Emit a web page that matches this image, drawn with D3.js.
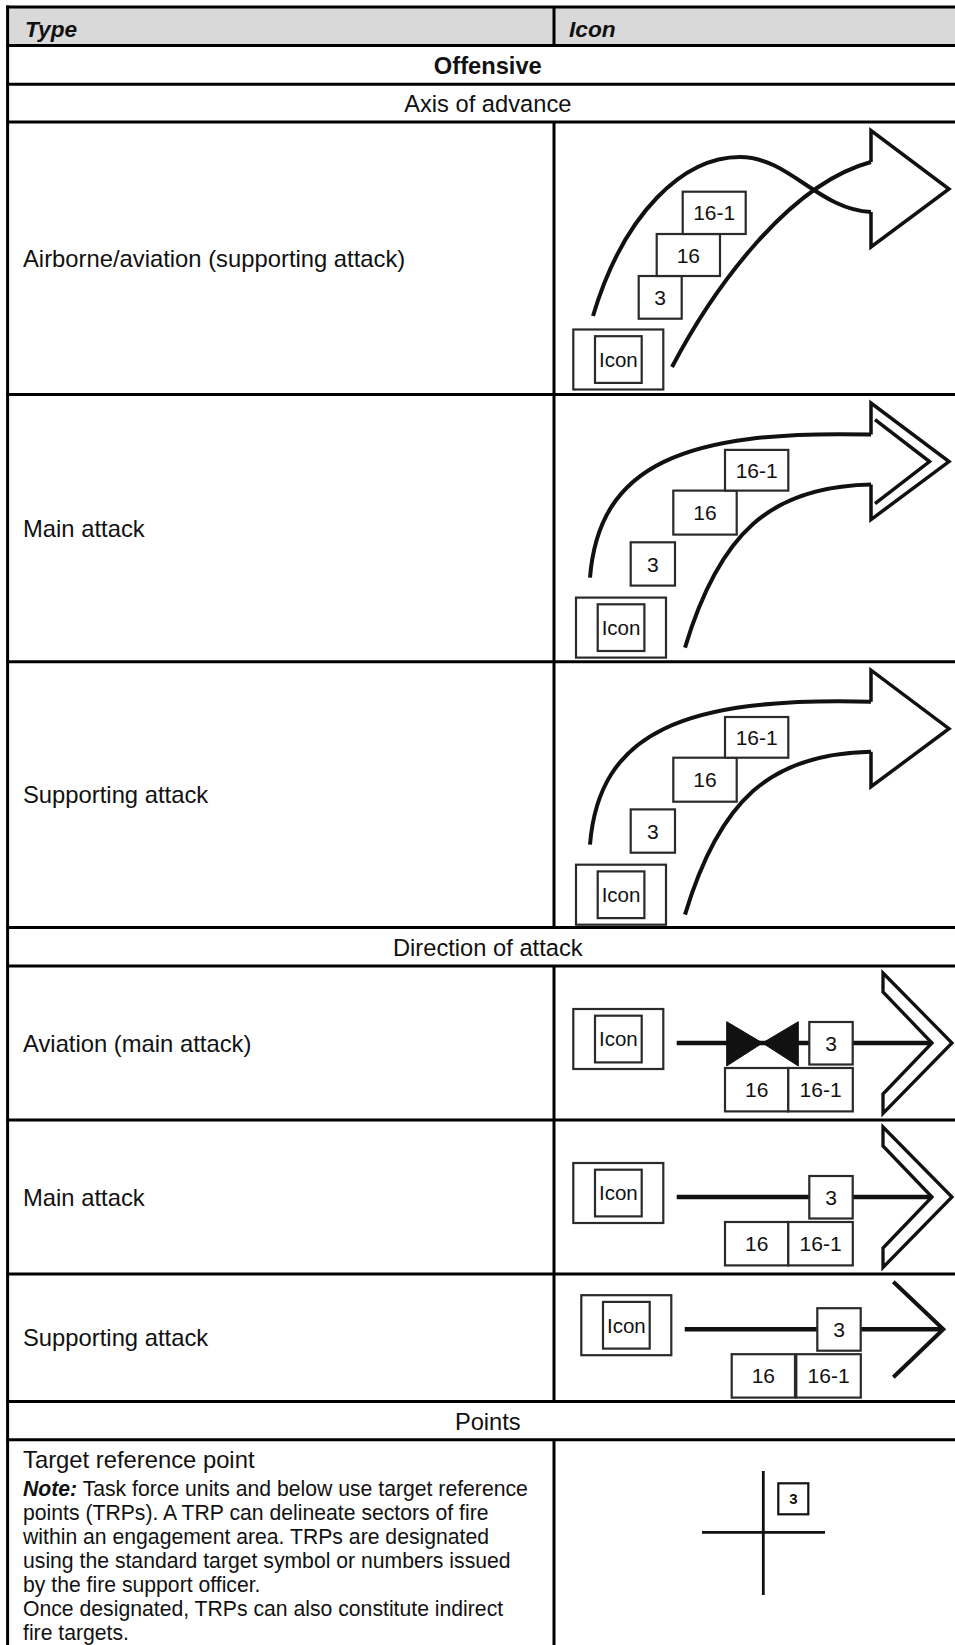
<!DOCTYPE html>
<html><head><meta charset="utf-8">
<script src="https://cdn.jsdelivr.net/npm/d3@7"></script>
<style>
html,body{margin:0;padding:0;background:#fff;}
svg{display:block;}
text{font-family:"Liberation Sans",Arial,Helvetica,sans-serif;fill:#111;}
</style></head><body>
<svg id="c" width="955" height="1645"></svg>
<script>
// ---------- data ----------
const columnHeaders = ["Type", "Icon"];
const groupTitle = "Offensive";
const subsectionTitles = ["Axis of advance", "Direction of attack", "Points"];
const axisOfAdvanceTypes = ["Airborne/aviation (supporting attack)", "Main attack", "Supporting attack"];
const axisOfAdvanceVariants = ["airborne", "main", "supporting"];
const directionOfAttackTypes = ["Aviation (main attack)", "Main attack", "Supporting attack"];
const directionOfAttackVariants = ["aviation", "main", "supporting"];
const fieldLabels = ["3", "16", "16-1"];
const iconPlaceholder = "Icon";
const pointTypes = ["Target reference point"];
const trpNoteLead = "Note:";
const trpNoteLines = [
  " Task force units and below use target reference",
  "points (TRPs). A TRP can delineate sectors of fire",
  "within an engagement area. TRPs are designated",
  "using the standard target symbol or numbers issued",
  "by the fire support officer.",
  "Once designated, TRPs can also constitute indirect",
  "fire targets."
];
const trpLabel = "3";

// ---------- layout ----------
const W = 955, H = 1645;
const xLeft = 7.6, xDiv = 554, xRight = 968, yTop = 7;
const centerX = (xLeft + xRight) / 2;
const ink = "#111", boxInk = "#2a2a2a";
const layoutHeights = {header: 38.6, group: 38.6, sub: [37.8, 38.4, 38.2],
  axis: [272.6, 267.1, 265.9], dir: [154, 154, 127.5], trp: 260};

const rows = [];
rows.push({kind: "header", h: layoutHeights.header});
rows.push({kind: "group", text: groupTitle, h: layoutHeights.group});
rows.push({kind: "sub", text: subsectionTitles[0], h: layoutHeights.sub[0]});
axisOfAdvanceTypes.forEach((t, i) => rows.push({kind: "axis", text: t, variant: axisOfAdvanceVariants[i], h: layoutHeights.axis[i]}));
rows.push({kind: "sub", text: subsectionTitles[1], h: layoutHeights.sub[1]});
directionOfAttackTypes.forEach((t, i) => rows.push({kind: "dir", text: t, variant: directionOfAttackVariants[i], h: layoutHeights.dir[i]}));
rows.push({kind: "sub", text: subsectionTitles[2], h: layoutHeights.sub[2]});
rows.push({kind: "trp", text: pointTypes[0], h: layoutHeights.trp});

const ends = d3.cumsum(rows, r => r.h);
rows.forEach((r, i) => { r.y0 = yTop + (i ? ends[i - 1] : 0); r.y1 = yTop + ends[i]; });

const svg = d3.select("#c");

// header background
const hdr = rows[0];
svg.append("rect").attr("x", xLeft).attr("y", hdr.y0).attr("width", xRight - xLeft)
  .attr("height", hdr.h).attr("fill", "#d9d9d9");

// ---------- helpers ----------
function box(g, x, y, w, h, label, fs, sw) {
  g.append("rect").attr("x", x).attr("y", y).attr("width", w).attr("height", h)
    .attr("fill", "#fff").attr("stroke", boxInk).attr("stroke-width", sw || 2.2);
  if (label != null)
    g.append("text").attr("x", x + w / 2).attr("y", y + h / 2).attr("dy", "0.36em")
      .attr("text-anchor", "middle").attr("font-size", fs || 21).text(label);
}
function iconBox(g, x, y) {
  box(g, x, y, 90, 60, null);
  box(g, x + 21.7, y + 6.7, 46.7, 46.7, iconPlaceholder, 20.5);
}
function strokePath(g, p, sw) {
  g.append("path").attr("d", p.toString()).attr("fill", "none").attr("stroke", ink)
    .attr("stroke-width", sw).attr("stroke-linejoin", "miter").attr("stroke-miterlimit", 10);
}

function drawAxisIcon(g, variant) {
  const sh = d3.path();
  if (variant === "airborne") {
    // upper curve crossing over to lower shaft end
    sh.moveTo(39, 194); sh.bezierCurveTo(70, 90, 130, 35, 186, 35);
    sh.bezierCurveTo(235, 35, 265, 88, 317, 90);
    sh.moveTo(118, 245); sh.bezierCurveTo(160, 165, 235, 62, 317, 40);
  } else {
    sh.moveTo(36, 183); sh.bezierCurveTo(45, 70, 130, 35, 317, 40);
    sh.moveTo(131, 253); sh.bezierCurveTo(165, 140, 215, 92, 317, 90);
  }
  strokePath(g, sh, 4);
  const hd = d3.path();
  hd.moveTo(317, 40); hd.lineTo(317, 8.5); hd.lineTo(395, 67); hd.lineTo(317, 125); hd.lineTo(317, 90);
  strokePath(g, hd, 3.5);
  if (variant === "main") {
    const inner = d3.path();
    inner.moveTo(321, 25); inner.lineTo(375.5, 67); inner.lineTo(321, 109);
    strokePath(g, inner, 3.5);
  }
  const B = variant === "airborne"
    ? [[84.7, 154, 43, 42.7], [102.7, 112, 63.3, 42], [128.7, 69.7, 63, 42.3]]
    : [[76.7, 147.7, 44.3, 43.3], [119.3, 96, 63.4, 44], [171, 55.3, 63.3, 40.7]];
  B.forEach((b, i) => box(g, b[0], b[1], b[2], b[3], fieldLabels[i]));
  if (variant === "airborne") iconBox(g, 19.3, 207.5);
  else iconBox(g, 22, 203);
}

function drawDirIcon(g, variant) {
  const sup = variant === "supporting";
  const ox = sup ? 8 : 0, oy = sup ? -21.8 : 0;
  const ly = 77 + oy;
  // axis line
  const ln = d3.path();
  ln.moveTo(122.7 + ox, ly); ln.lineTo(sup ? 389 : 378, ly);
  strokePath(g, ln, 4.5);
  if (sup) {
    const ch = d3.path();
    ch.moveTo(339.3, 7.7); ch.lineTo(389.3, 55.3); ch.lineTo(339.3, 103.3);
    strokePath(g, ch, 4);
  } else {
    const ch = d3.path();
    ch.moveTo(329, 7); ch.lineTo(398, 77); ch.lineTo(329, 147.5);
    ch.lineTo(329, 128); ch.lineTo(378, 77); ch.lineTo(329, 26); ch.closePath();
    strokePath(g, ch, 3.3);
  }
  if (variant === "aviation") {
    const bt = d3.path();
    bt.moveTo(172.7, 55.7); bt.lineTo(208.5, ly); bt.lineTo(172.7, 100); bt.closePath();
    bt.moveTo(244.3, 55.7); bt.lineTo(208.5, ly); bt.lineTo(244.3, 100); bt.closePath();
    g.append("path").attr("d", bt.toString()).attr("fill", ink).attr("stroke", ink).attr("stroke-width", 1);
  }
  box(g, 255.3 + ox, 56 + oy, 43.4, 42.5, fieldLabels[0]);
  box(g, 171 + ox + (sup ? -1.3 : 0), 102 + oy, 63.3, 43.4, fieldLabels[1]);
  box(g, 234.3 + ox, 102 + oy, 64.5, 43.4, fieldLabels[2]);
  iconBox(g, 19.3 + ox, 43 + oy);
}

function drawTrpIcon(g) {
  const c = d3.path();
  c.moveTo(209.3, 31.3); c.lineTo(209.3, 155.3);
  c.moveTo(148, 92.6); c.lineTo(271, 92.6);
  strokePath(g, c, 2.8);
  g.append("rect").attr("x", 224.3).attr("y", 43.6).attr("width", 30).attr("height", 31)
    .attr("fill", "#fff").attr("stroke", ink).attr("stroke-width", 2.2);
  g.append("text").attr("x", 239.3).attr("y", 59.1).attr("dy", "0.36em").attr("text-anchor", "middle")
    .attr("font-size", 15).attr("font-weight", "bold").text(trpLabel);
}

// ---------- rows ----------
rows.forEach(r => {
  const cy = (r.y0 + r.y1) / 2;
  if (r.kind === "header") {
    [xLeft + 17.4, xDiv + 15].forEach((x, i) =>
      svg.append("text").attr("x", x).attr("y", r.y0 + 30).attr("font-size", 22.7)
        .attr("font-weight", "bold").attr("font-style", "italic").text(columnHeaders[i]));
  } else if (r.kind === "group" || r.kind === "sub") {
    svg.append("text").attr("x", centerX).attr("y", cy + 9).attr("text-anchor", "middle")
      .attr("font-size", 23.7).attr("font-weight", r.kind === "group" ? "bold" : "normal").text(r.text);
  } else if (r.kind === "axis" || r.kind === "dir") {
    svg.append("text").attr("x", 23).attr("y", cy + 8.5).attr("font-size", 23.8).text(r.text);
    const g = svg.append("g").attr("transform", `translate(${xDiv},${r.y0})`);
    if (r.kind === "axis") drawAxisIcon(g, r.variant); else drawDirIcon(g, r.variant);
  } else if (r.kind === "trp") {
    svg.append("text").attr("x", 23).attr("y", 1468).attr("font-size", 23.8).text(r.text);
    trpNoteLines.forEach((line, i) => {
      const t = svg.append("text").attr("x", 23).attr("y", 1496 + 24 * i).attr("font-size", 21.2);
      if (i === 0) t.append("tspan").attr("font-weight", "bold").attr("font-style", "italic").text(trpNoteLead);
      t.append("tspan").attr("xml:space", "preserve").style("white-space", "pre").text(line);
    });
    const g = svg.append("g").attr("transform", `translate(${xDiv},${r.y0})`);
    drawTrpIcon(g);
  }
});

// ---------- grid lines ----------
const grid = svg.append("g").attr("stroke", "#000").attr("stroke-width", 3);
grid.append("line").attr("x1", xLeft - 1.5).attr("x2", xRight).attr("y1", yTop).attr("y2", yTop);
rows.forEach(r => {
  if (r.kind !== "trp")
    grid.append("line").attr("x1", xLeft - 1.5).attr("x2", xRight).attr("y1", r.y1).attr("y2", r.y1);
});
grid.append("line").attr("x1", xLeft).attr("x2", xLeft).attr("y1", yTop - 1.5).attr("y2", H);
rows.forEach(r => {
  if (r.kind === "header" || r.kind === "axis" || r.kind === "dir" || r.kind === "trp")
    grid.append("line").attr("x1", xDiv).attr("x2", xDiv).attr("y1", r.y0).attr("y2", r.kind === "trp" ? H : r.y1);
});
</script>
</body></html>
